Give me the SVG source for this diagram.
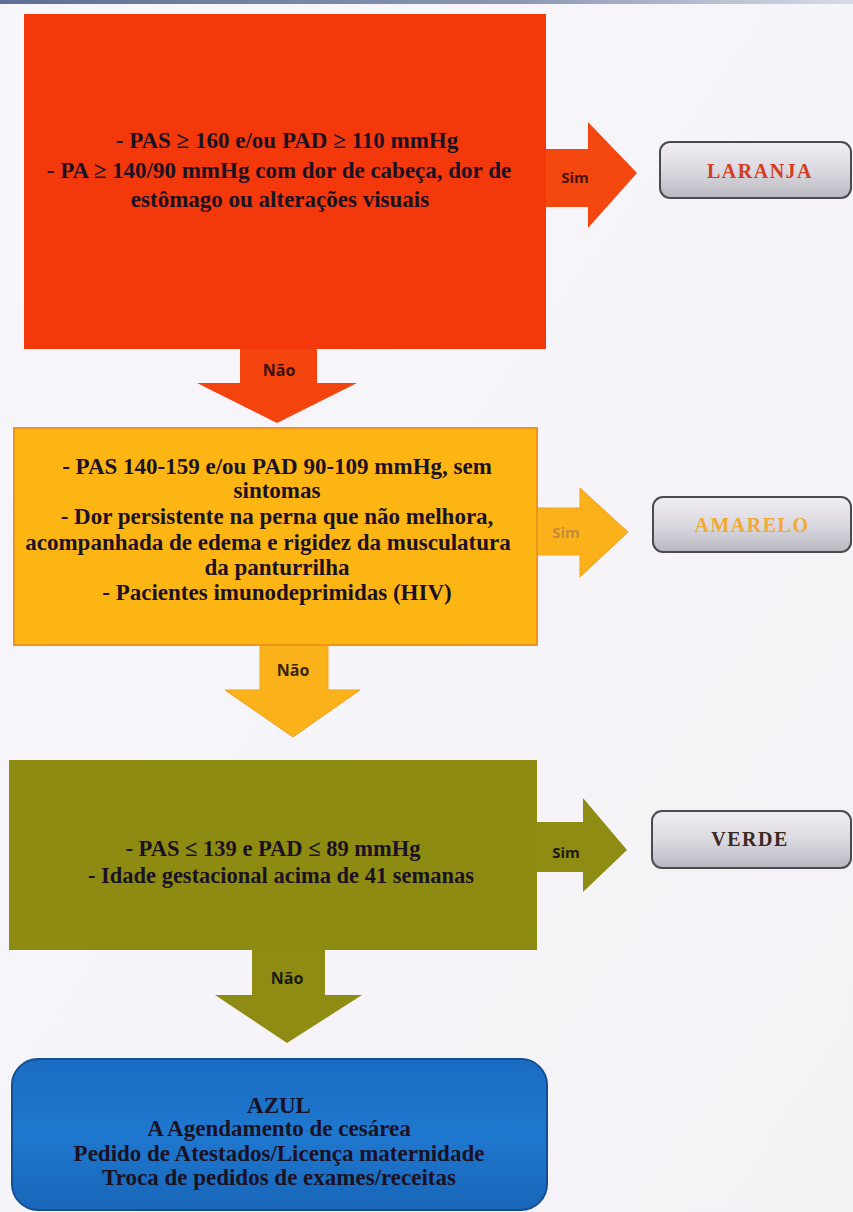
<svg xmlns="http://www.w3.org/2000/svg" width="853" height="1212" viewBox="0 0 853 1212">
  <defs>
    <linearGradient id="bg" x1="0" y1="0" x2="1" y2="1">
      <stop offset="0" stop-color="#f7f6fb"/>
      <stop offset="1" stop-color="#f4f2f5"/>
    </linearGradient>
    <linearGradient id="topband" x1="0" y1="0" x2="1" y2="0">
      <stop offset="0" stop-color="#5d6f95"/>
      <stop offset="0.6" stop-color="#8a96b2"/>
      <stop offset="1" stop-color="#d8dbe6"/>
    </linearGradient>
    <linearGradient id="pill" x1="0" y1="0" x2="0" y2="1">
      <stop offset="0" stop-color="#f1eff4"/>
      <stop offset="0.55" stop-color="#d9d7de"/>
      <stop offset="1" stop-color="#b9b7bf"/>
    </linearGradient>
    <linearGradient id="blueFill" x1="0" y1="0" x2="0" y2="1">
      <stop offset="0" stop-color="#1a6cc2"/>
      <stop offset="0.5" stop-color="#1f78cf"/>
      <stop offset="1" stop-color="#1866b8"/>
    </linearGradient>
  </defs>
  <style>
    .body { font-family: "Liberation Serif", "Times New Roman", serif; font-weight: bold; fill: #1a1224; text-anchor: middle; }
    .b22 { font-size: 22.5px; }
    .b23 { font-size: 23px; }
    .lbl { font-family: "Open Sans", "Liberation Sans", sans-serif; font-weight: bold; text-anchor: middle; }
    .sim { font-size: 15px; }
    .nao { font-size: 16px; }
    .pill { fill: url(#pill); stroke: #4b4a50; stroke-width: 2; }
    .pilltxt { font-family: "Liberation Serif", "Times New Roman", serif; font-weight: bold; font-size: 20px; text-anchor: middle; letter-spacing: 1.5px; }
  </style>

  <!-- page -->
  <rect x="0" y="0" width="853" height="1212" fill="url(#bg)"/>
  <rect x="0" y="0" width="853" height="4" fill="url(#topband)"/>

  <!-- block arrows joining the steps -->
  <g id="connectors">
    <polygon points="546,149 588,149 588,122 637,173 588,228 588,207 546,207" fill="#f4460f"/>
    <text class="lbl sim" x="575" y="183" fill="#4a1410">Sim</text>
    <polygon points="240,349 317,349 317,383 357,383 277,423 197,383 240,383" fill="#f4440e"/>
    <text class="lbl nao" x="279" y="376" fill="#3a1010">Não</text>

    <polygon points="537,508 580,508 580,488 628,532 580,577 580,555 537,555" fill="#fbb21a" stroke="#f0a020" stroke-width="1"/>
    <text class="lbl sim" x="566" y="538" fill="#c88a3a" font-weight="normal">Sim</text>
    <polygon points="260,645 328,645 328,690 360,690 293,737 225,690 260,690" fill="#fbb21a" stroke="#f0a020" stroke-width="1"/>
    <text class="lbl nao" x="293" y="676" fill="#3a2410">Não</text>

    <polygon points="537,822 583,822 583,798 627,850 583,892 583,872 537,872" fill="#8f8c14"/>
    <text class="lbl sim" x="566" y="858" fill="#1c1a10">Sim</text>
    <polygon points="252,950 325,950 325,995 362,995 287,1043 215,995 252,995" fill="#8f8c14"/>
    <text class="lbl nao" x="287" y="984" fill="#1c1a10">Não</text>
  </g>

  <!-- step 1: orange-red criteria -->
  <g id="node-laranja-criteria">
    <rect x="24" y="14" width="522" height="335" fill="#f3380c"/>
    <text class="body b23" x="287" y="148">- PAS ≥ 160 e/ou PAD ≥ 110 mmHg</text>
    <text class="body b23" x="279" y="178">- PA ≥ 140/90 mmHg com dor de cabeça, dor de</text>
    <text class="body b23" x="280" y="207">estômago ou alterações visuais</text>
  </g>

  <!-- step 2: yellow criteria -->
  <g id="node-amarelo-criteria">
    <rect x="14" y="428" width="523" height="217" fill="#fdb513" stroke="#ee9418" stroke-width="2"/>
    <text class="body b23" x="277" y="474">- PAS 140-159 e/ou PAD 90-109 mmHg, sem</text>
    <text class="body b23" x="277" y="498">sintomas</text>
    <text class="body b23" x="277" y="524">- Dor persistente na perna que não melhora,</text>
    <text class="body b23" x="268" y="550">acompanhada de edema e rigidez da musculatura</text>
    <text class="body b23" x="277" y="575">da panturrilha</text>
    <text class="body b23" x="277" y="600">- Pacientes imunodeprimidas (HIV)</text>
  </g>

  <!-- step 3: green criteria -->
  <g id="node-verde-criteria">
    <rect x="9" y="760" width="528" height="190" fill="#8e8b12"/>
    <text class="body b22" x="273" y="856">- PAS ≤ 139 e PAD ≤ 89 mmHg</text>
    <text class="body b22" x="281" y="883">- Idade gestacional acima de 41 semanas</text>
  </g>

  <!-- fallback: blue -->
  <g id="node-azul">
    <rect x="12" y="1059" width="535" height="151" rx="26" fill="url(#blueFill)" stroke="#154f93" stroke-width="2"/>
    <text class="body b23" x="279" y="1113">AZUL</text>
    <text class="body b23" x="279" y="1136">A Agendamento de cesárea</text>
    <text class="body b23" x="279" y="1161">Pedido de Atestados/Licença maternidade</text>
    <text class="body b23" x="279" y="1185">Troca de pedidos de exames/receitas</text>
  </g>

  <!-- classification outcomes -->
  <g id="node-laranja">
    <rect class="pill" x="660" y="142" width="191" height="56" rx="10"/>
    <text class="pilltxt" x="760" y="178" fill="#d23c22">LARANJA</text>
  </g>
  <g id="node-amarelo">
    <rect class="pill" x="653" y="497" width="198" height="55" rx="10"/>
    <text class="pilltxt" x="752" y="532" fill="#f2a934">AMARELO</text>
  </g>
  <g id="node-verde">
    <rect class="pill" x="652" y="811" width="199" height="57" rx="10"/>
    <text class="pilltxt" x="750" y="846" fill="#3a2a22">VERDE</text>
  </g>
</svg>
